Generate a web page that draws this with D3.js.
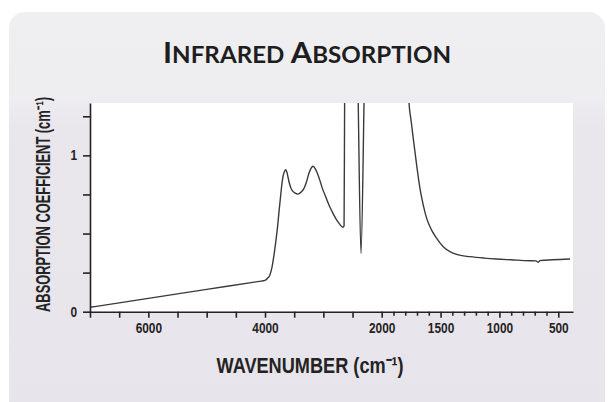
<!DOCTYPE html>
<html>
<head>
<meta charset="utf-8">
<script src="https://cdn.jsdelivr.net/npm/d3@7"></script>
<style>
  body { margin: 0; background: #ffffff; }
  svg { display: block; }
</style>
</head>
<body>
<svg id="chart" width="613" height="402"></svg>
<script>
// Infrared absorption spectrum: wavenumber (cm-1) vs absorption coefficient (cm-1)
const wavenumber = [
  7000, 6000, 5000, 4100, 4000, 3960, 3920, 3880, 3846, 3815, 3788, 3760, 3731, 3710, 3690, 3665, 3646,
  3620, 3589, 3560, 3532, 3490, 3435, 3380, 3332, 3290, 3247, 3210, 3178, 3140, 3103,
  3060, 3017, 2960, 2904, 2850, 2789, 2730, 2664, 2645, 2635, 2600, 2450, 2405, 2355,
  2300, 2250, 1800, 1770, 1750, 1732, 1703, 1675, 1647, 1618, 1576, 1533, 1477, 1420,
  1349, 1250, 1130, 1024, 900, 741, 690, 670, 655, 550, 400
];
const absorption = [
  0.028, 0.085, 0.143, 0.194, 0.200, 0.213, 0.232, 0.285, 0.363, 0.450, 0.533, 0.640, 0.746, 0.820, 0.868, 0.898, 0.908,
  0.885, 0.831, 0.795, 0.775, 0.760, 0.752, 0.765, 0.789, 0.830, 0.885, 0.918, 0.930, 0.915, 0.885,
  0.840, 0.789, 0.735, 0.682, 0.640, 0.597, 0.565, 0.540, 0.550, 1.400, 2.500, 2.500, 1.400, 0.372,
  1.400, 2.500, 2.500, 1.360, 1.220, 1.109, 0.938, 0.789, 0.682, 0.597, 0.522, 0.469, 0.416, 0.384,
  0.363, 0.352, 0.343, 0.337, 0.332, 0.326, 0.325, 0.316, 0.327, 0.332, 0.337
];

// Axis ticks: the scale doubles its stretch below 2000 cm-1
const xMajorTicks = [7000, 6500, 6000, 5500, 5000, 4500, 4000, 3500, 3000, 2500, 2000, 1500, 1000, 500];
const xMinorTicks = [1900, 1800, 1700, 1600, 1400, 1300, 1200, 1100, 900, 800, 700, 600];
const xTickLabels = [6000, 4000, 2000, 1500, 1000, 500];
const yTicks = [0, 0.25, 0.5, 0.75, 1, 1.25];
const yTickLabels = [0, 1];

const title = "Infrared Absorption";
const xTitle = "WAVENUMBER (cm\u207B\u00B9)";
const yTitle = "ABSORPTION COEFFICIENT (cm\u207B\u00B9)";

const condensed = "'Liberation Sans','Arial',sans-serif";
const ink = "#232323";

const svg = d3.select("#chart");

// Panel background
const defs = svg.append("defs");
const grad = defs.append("linearGradient").attr("id", "panelGrad")
  .attr("x1", 0).attr("y1", 0).attr("x2", 0).attr("y2", 1);
grad.append("stop").attr("offset", "0%").attr("stop-color", "#efeef1");
grad.append("stop").attr("offset", "20%").attr("stop-color", "#eeedf0");
grad.append("stop").attr("offset", "28%").attr("stop-color", "#e9e6ec");
grad.append("stop").attr("offset", "100%").attr("stop-color", "#e8e4eb");

svg.append("rect")
  .attr("x", 9).attr("y", 12).attr("width", 596).attr("height", 420)
  .attr("rx", 16).attr("ry", 16)
  .attr("fill", "url(#panelGrad)");

// Scales
const plotLeft = 90, plotRight = 573, plotTop = 103, plotBottom = 311.7;
const x = d3.scaleLinear().domain([7000, 2000, 375]).range([plotLeft, 381.7, plotRight]);
const y = d3.scaleLinear().domain([0, 1.335]).range([plotBottom, plotTop]);

// Plot area
svg.append("rect")
  .attr("x", plotLeft).attr("y", plotTop)
  .attr("width", plotRight - plotLeft).attr("height", plotBottom - plotTop)
  .attr("fill", "#ffffff");

defs.append("clipPath").attr("id", "plotClip")
  .append("rect")
  .attr("x", plotLeft).attr("y", plotTop)
  .attr("width", plotRight - plotLeft).attr("height", plotBottom - plotTop);

// Spectrum
const points = wavenumber.map((w, i) => [w, absorption[i]]);
const line = d3.line()
  .x(d => x(d[0]))
  .y(d => y(d[1]))
  .curve(d3.curveMonotoneX);

svg.append("path")
  .datum(points)
  .attr("clip-path", "url(#plotClip)")
  .attr("fill", "none")
  .attr("stroke", "#3a3a3a")
  .attr("stroke-width", 1.4)
  .attr("stroke-linejoin", "round")
  .attr("d", line);

// X axis
const xAxis = d3.axisBottom(x)
  .tickValues(xMajorTicks)
  .tickSize(6)
  .tickSizeOuter(0)
  .tickPadding(5)
  .tickFormat(d => xTickLabels.includes(d) ? d : "");

const gx = svg.append("g")
  .attr("transform", `translate(0,${plotBottom})`)
  .call(xAxis);

const gxMinor = svg.append("g")
  .attr("transform", `translate(0,${plotBottom})`)
  .call(d3.axisBottom(x).tickValues(xMinorTicks).tickSize(4).tickSizeOuter(0).tickFormat(""));
gxMinor.select(".domain").remove();

// Y axis
const yAxis = d3.axisLeft(y)
  .tickValues(yTicks)
  .tickSize(7)
  .tickSizeOuter(0)
  .tickPadding(6)
  .tickFormat(d => yTickLabels.includes(d) ? d : "");

const gy = svg.append("g")
  .attr("transform", `translate(${plotLeft},0)`)
  .call(yAxis);

[gx, gxMinor, gy].forEach(g => {
  g.selectAll(".domain").attr("stroke", ink).attr("stroke-width", 1.6);
  g.selectAll(".tick line").attr("stroke", ink).attr("stroke-width", 1.6);
  g.selectAll(".tick text")
    .attr("fill", ink)
    .style("font-family", condensed)
    .style("font-weight", "bold")
    .style("font-size", "14px");
});
// Narrow the tick numerals
gx.selectAll(".tick text")
  .filter(d => xTickLabels.includes(d))
  .attr("textLength", d => String(d).length * 6.6)
  .attr("lengthAdjust", "spacingAndGlyphs");
gy.selectAll(".tick text")
  .filter(d => yTickLabels.includes(d))
  .attr("textLength", 6.6)
  .attr("lengthAdjust", "spacingAndGlyphs");

// Title in small capitals
const t = svg.append("text")
  .attr("x", 307).attr("y", 63)
  .attr("text-anchor", "middle")
  .attr("fill", "#1e1e1e")
  .attr("textLength", 288)
  .attr("lengthAdjust", "spacingAndGlyphs")
  .style("font-family", "Lato, 'Open Sans', sans-serif")
  .style("font-weight", "bold");
title.split(" ").forEach((word, i) => {
  t.append("tspan").style("font-size", "28px").text((i ? " " : "") + word[0].toUpperCase());
  t.append("tspan").style("font-size", "22px").text(word.slice(1).toUpperCase());
});

// X axis title
svg.append("text")
  .attr("x", 310).attr("y", 373)
  .attr("text-anchor", "middle")
  .attr("fill", ink)
  .attr("textLength", 187)
  .attr("lengthAdjust", "spacingAndGlyphs")
  .style("font-family", condensed)
  .style("font-weight", "bold")
  .style("font-size", "22px")
  .text(xTitle);

// Y axis title: narrowed along its run so it spans the plot height
const yLabel = svg.append("text")
  .attr("text-anchor", "middle")
  .attr("fill", ink)
  .style("font-family", condensed)
  .style("font-weight", "bold")
  .style("font-size", "19.5px")
  .text(yTitle);
const yLabelSqueeze = 215 / yLabel.node().getComputedTextLength();
yLabel.attr("transform", `translate(50,204.5) rotate(-90) scale(${yLabelSqueeze},1)`);
</script>
</body>
</html>
